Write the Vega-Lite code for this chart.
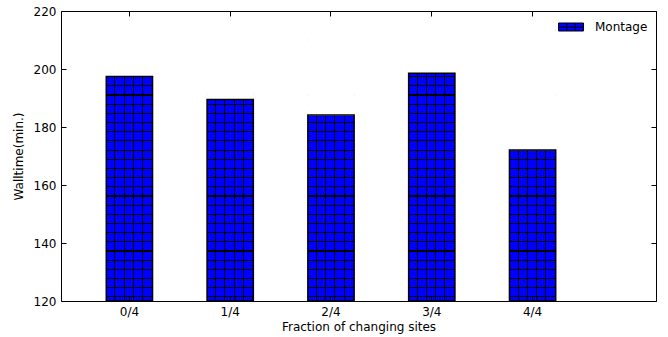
{
  "$schema": "https://vega.github.io/schema/vega-lite/v6.json",
  "width": 595,
  "height": 290,
  "autosize": {"type": "none"},
  "padding": {"left": 61, "top": 11, "right": 12, "bottom": 36},
  "background": "white",
  "config": {
    "view": {"stroke": null},
    "font": "DejaVu Sans",
    "axis": {
      "domainColor": "black",
      "domainWidth": 1,
      "tickColor": "black",
      "tickWidth": 1,
      "tickSize": -5,
      "labelColor": "black",
      "titleColor": "black",
      "labelFont": "DejaVu Sans",
      "titleFont": "DejaVu Sans",
      "labelFontSize": 12,
      "titleFontSize": 12,
      "titleFontWeight": "normal",
      "grid": false,
      "zindex": 1
    }
  },
  "data": {
    "values": [
      {"fraction": "0/4", "walltime": 197.4, "series": "Montage"},
      {"fraction": "1/4", "walltime": 189.5, "series": "Montage"},
      {"fraction": "2/4", "walltime": 184.1, "series": "Montage"},
      {"fraction": "3/4", "walltime": 198.5, "series": "Montage"},
      {"fraction": "4/4", "walltime": 172.1, "series": "Montage"}
    ]
  },
  "layer": [
    {
      "mark": {
        "type": "bar",
        "fill": {
          "gradient": "linear", "x1": 0, "y1": 0, "x2": 1, "y2": 0,
          "stops": [
            {"offset": 0, "color": "#0000ff"},
            {"offset": 0.177, "color": "#0000ff"}, {"offset": 0.177, "color": "#000000"}, {"offset": 0.199, "color": "#000000"}, {"offset": 0.199, "color": "#0000ff"},
            {"offset": 0.375, "color": "#0000ff"}, {"offset": 0.375, "color": "#000000"}, {"offset": 0.397, "color": "#000000"}, {"offset": 0.397, "color": "#0000ff"},
            {"offset": 0.573, "color": "#0000ff"}, {"offset": 0.573, "color": "#000000"}, {"offset": 0.595, "color": "#000000"}, {"offset": 0.595, "color": "#0000ff"},
            {"offset": 0.771, "color": "#0000ff"}, {"offset": 0.771, "color": "#000000"}, {"offset": 0.793, "color": "#000000"}, {"offset": 0.793, "color": "#0000ff"},
            {"offset": 1, "color": "#0000ff"}
          ]
        }
      },
      "encoding": {
        "x": {
          "field": "fraction", "type": "nominal",
          "scale": {"paddingInner": 0.541, "paddingOuter": 0.722, "align": 0.311},
          "axis": {"orient": "bottom", "title": "Fraction of changing sites", "labelAngle": 0, "labelPadding": 10, "titlePadding": 4, "zindex": 2}
        },
        "y": {
          "field": "walltime", "type": "quantitative",
          "scale": {"domain": [120, 220], "zero": false, "nice": false},
          "axis": {"orient": "left", "title": "Walltime(min.)", "values": [120, 140, 160, 180, 200, 220], "labelPadding": 10, "titlePadding": 8, "zindex": 2}
        },
        "y2": {"datum": 120}
      }
    },
    {
      "mark": {
        "type": "bar",
        "fill": {
          "gradient": "linear", "x1": 0, "y1": 0, "x2": 0, "y2": 1,
          "stops": [
            {"offset": 0, "color": "rgba(0,0,0,0)"},
            {"offset": 0.00328, "color": "rgba(0,0,0,0)"}, {"offset": 0.00328, "color": "#000000"}, {"offset": 0.00728, "color": "#000000"}, {"offset": 0.00728, "color": "rgba(0,0,0,0)"},
            {"offset": 0.03490, "color": "rgba(0,0,0,0)"}, {"offset": 0.03490, "color": "#000000"}, {"offset": 0.03890, "color": "#000000"}, {"offset": 0.03890, "color": "rgba(0,0,0,0)"},
            {"offset": 0.06652, "color": "rgba(0,0,0,0)"}, {"offset": 0.06652, "color": "#000000"}, {"offset": 0.07052, "color": "#000000"}, {"offset": 0.07052, "color": "rgba(0,0,0,0)"},
            {"offset": 0.09814, "color": "rgba(0,0,0,0)"}, {"offset": 0.09814, "color": "#000000"}, {"offset": 0.10214, "color": "#000000"}, {"offset": 0.10214, "color": "rgba(0,0,0,0)"},
            {"offset": 0.12976, "color": "rgba(0,0,0,0)"}, {"offset": 0.12976, "color": "#000000"}, {"offset": 0.13376, "color": "#000000"}, {"offset": 0.13376, "color": "rgba(0,0,0,0)"},
            {"offset": 0.16138, "color": "rgba(0,0,0,0)"}, {"offset": 0.16138, "color": "#000000"}, {"offset": 0.16538, "color": "#000000"}, {"offset": 0.16538, "color": "rgba(0,0,0,0)"},
            {"offset": 0.19300, "color": "rgba(0,0,0,0)"}, {"offset": 0.19300, "color": "#000000"}, {"offset": 0.19700, "color": "#000000"}, {"offset": 0.19700, "color": "rgba(0,0,0,0)"},
            {"offset": 0.22462, "color": "rgba(0,0,0,0)"}, {"offset": 0.22462, "color": "#000000"}, {"offset": 0.22862, "color": "#000000"}, {"offset": 0.22862, "color": "rgba(0,0,0,0)"},
            {"offset": 0.25624, "color": "rgba(0,0,0,0)"}, {"offset": 0.25624, "color": "#000000"}, {"offset": 0.26024, "color": "#000000"}, {"offset": 0.26024, "color": "rgba(0,0,0,0)"},
            {"offset": 0.28786, "color": "rgba(0,0,0,0)"}, {"offset": 0.28786, "color": "#000000"}, {"offset": 0.29186, "color": "#000000"}, {"offset": 0.29186, "color": "rgba(0,0,0,0)"},
            {"offset": 0.31948, "color": "rgba(0,0,0,0)"}, {"offset": 0.31948, "color": "#000000"}, {"offset": 0.32348, "color": "#000000"}, {"offset": 0.32348, "color": "rgba(0,0,0,0)"},
            {"offset": 0.35110, "color": "rgba(0,0,0,0)"}, {"offset": 0.35110, "color": "#000000"}, {"offset": 0.35510, "color": "#000000"}, {"offset": 0.35510, "color": "rgba(0,0,0,0)"},
            {"offset": 0.38272, "color": "rgba(0,0,0,0)"}, {"offset": 0.38272, "color": "#000000"}, {"offset": 0.38672, "color": "#000000"}, {"offset": 0.38672, "color": "rgba(0,0,0,0)"},
            {"offset": 0.41434, "color": "rgba(0,0,0,0)"}, {"offset": 0.41434, "color": "#000000"}, {"offset": 0.41834, "color": "#000000"}, {"offset": 0.41834, "color": "rgba(0,0,0,0)"},
            {"offset": 0.44597, "color": "rgba(0,0,0,0)"}, {"offset": 0.44597, "color": "#000000"}, {"offset": 0.44997, "color": "#000000"}, {"offset": 0.44997, "color": "rgba(0,0,0,0)"},
            {"offset": 0.47759, "color": "rgba(0,0,0,0)"}, {"offset": 0.47759, "color": "#000000"}, {"offset": 0.48159, "color": "#000000"}, {"offset": 0.48159, "color": "rgba(0,0,0,0)"},
            {"offset": 0.50921, "color": "rgba(0,0,0,0)"}, {"offset": 0.50921, "color": "#000000"}, {"offset": 0.51321, "color": "#000000"}, {"offset": 0.51321, "color": "rgba(0,0,0,0)"},
            {"offset": 0.54083, "color": "rgba(0,0,0,0)"}, {"offset": 0.54083, "color": "#000000"}, {"offset": 0.54483, "color": "#000000"}, {"offset": 0.54483, "color": "rgba(0,0,0,0)"},
            {"offset": 0.57245, "color": "rgba(0,0,0,0)"}, {"offset": 0.57245, "color": "#000000"}, {"offset": 0.57645, "color": "#000000"}, {"offset": 0.57645, "color": "rgba(0,0,0,0)"},
            {"offset": 0.60407, "color": "rgba(0,0,0,0)"}, {"offset": 0.60407, "color": "#000000"}, {"offset": 0.60807, "color": "#000000"}, {"offset": 0.60807, "color": "rgba(0,0,0,0)"},
            {"offset": 0.63569, "color": "rgba(0,0,0,0)"}, {"offset": 0.63569, "color": "#000000"}, {"offset": 0.63969, "color": "#000000"}, {"offset": 0.63969, "color": "rgba(0,0,0,0)"},
            {"offset": 0.66731, "color": "rgba(0,0,0,0)"}, {"offset": 0.66731, "color": "#000000"}, {"offset": 0.67131, "color": "#000000"}, {"offset": 0.67131, "color": "rgba(0,0,0,0)"},
            {"offset": 0.69893, "color": "rgba(0,0,0,0)"}, {"offset": 0.69893, "color": "#000000"}, {"offset": 0.70293, "color": "#000000"}, {"offset": 0.70293, "color": "rgba(0,0,0,0)"},
            {"offset": 0.73055, "color": "rgba(0,0,0,0)"}, {"offset": 0.73055, "color": "#000000"}, {"offset": 0.73455, "color": "#000000"}, {"offset": 0.73455, "color": "rgba(0,0,0,0)"},
            {"offset": 0.76217, "color": "rgba(0,0,0,0)"}, {"offset": 0.76217, "color": "#000000"}, {"offset": 0.76617, "color": "#000000"}, {"offset": 0.76617, "color": "rgba(0,0,0,0)"},
            {"offset": 0.79379, "color": "rgba(0,0,0,0)"}, {"offset": 0.79379, "color": "#000000"}, {"offset": 0.79779, "color": "#000000"}, {"offset": 0.79779, "color": "rgba(0,0,0,0)"},
            {"offset": 0.82541, "color": "rgba(0,0,0,0)"}, {"offset": 0.82541, "color": "#000000"}, {"offset": 0.82941, "color": "#000000"}, {"offset": 0.82941, "color": "rgba(0,0,0,0)"},
            {"offset": 0.85703, "color": "rgba(0,0,0,0)"}, {"offset": 0.85703, "color": "#000000"}, {"offset": 0.86103, "color": "#000000"}, {"offset": 0.86103, "color": "rgba(0,0,0,0)"},
            {"offset": 0.88866, "color": "rgba(0,0,0,0)"}, {"offset": 0.88866, "color": "#000000"}, {"offset": 0.89266, "color": "#000000"}, {"offset": 0.89266, "color": "rgba(0,0,0,0)"},
            {"offset": 0.92028, "color": "rgba(0,0,0,0)"}, {"offset": 0.92028, "color": "#000000"}, {"offset": 0.92428, "color": "#000000"}, {"offset": 0.92428, "color": "rgba(0,0,0,0)"},
            {"offset": 0.95190, "color": "rgba(0,0,0,0)"}, {"offset": 0.95190, "color": "#000000"}, {"offset": 0.95590, "color": "#000000"}, {"offset": 0.95590, "color": "rgba(0,0,0,0)"},
            {"offset": 0.98352, "color": "rgba(0,0,0,0)"}, {"offset": 0.98352, "color": "#000000"}, {"offset": 0.98752, "color": "#000000"}, {"offset": 0.98752, "color": "rgba(0,0,0,0)"},
            {"offset": 1, "color": "rgba(0,0,0,0)"}
          ]
        }
      },
      "encoding": {
        "x": {
          "field": "fraction", "type": "nominal",
          "axis": {"orient": "top", "labels": false, "title": null, "zindex": 2}
        },
        "y": {"datum": 220, "type": "quantitative", "axis": {"orient": "right", "labels": false, "title": null, "values": [120, 140, 160, 180, 200, 220], "zindex": 2}},
        "y2": {"datum": 120}
      }
    },
    {
      "mark": {"type": "bar", "fill": "white", "stroke": "white", "strokeWidth": 1},
      "encoding": {
        "x": {"field": "fraction", "type": "nominal", "axis": null},
        "y": {"field": "walltime", "type": "quantitative", "axis": null},
        "y2": {"datum": 220}
      }
    },
    {
      "mark": {"type": "bar", "fillOpacity": 0, "stroke": "black", "strokeWidth": 1.5},
      "encoding": {
        "x": {"field": "fraction", "type": "nominal", "axis": null},
        "y": {"field": "walltime", "type": "quantitative", "axis": null},
        "y2": {"datum": 120},
        "fill": {
          "field": "series", "type": "nominal",
          "scale": {"range": ["#0000ff"]},
          "legend": {
            "title": null,
            "orient": "none",
            "legendX": 497,
            "legendY": 3,
            "padding": 0,
            "symbolType": "M-1,-0.32H1V0.32H-1Z M-0.33,-0.32V0.32 M0.33,-0.32V0.32 M-1,0H1",
            "symbolSize": 625,
            "symbolStrokeColor": "black",
            "symbolStrokeWidth": 1,
            "symbolOpacity": 1,
            "labelFont": "DejaVu Sans",
            "labelFontSize": 12,
            "labelColor": "black",
            "labelOffset": 11,
            "encode": {"symbols": {"update": {"fillOpacity": {"value": 1}, "stroke": {"value": "black"}, "strokeWidth": {"value": 1}}}}
          }
        }
      }
    }
  ],
  "resolve": {"axis": {"x": "independent", "y": "independent"}}
}
